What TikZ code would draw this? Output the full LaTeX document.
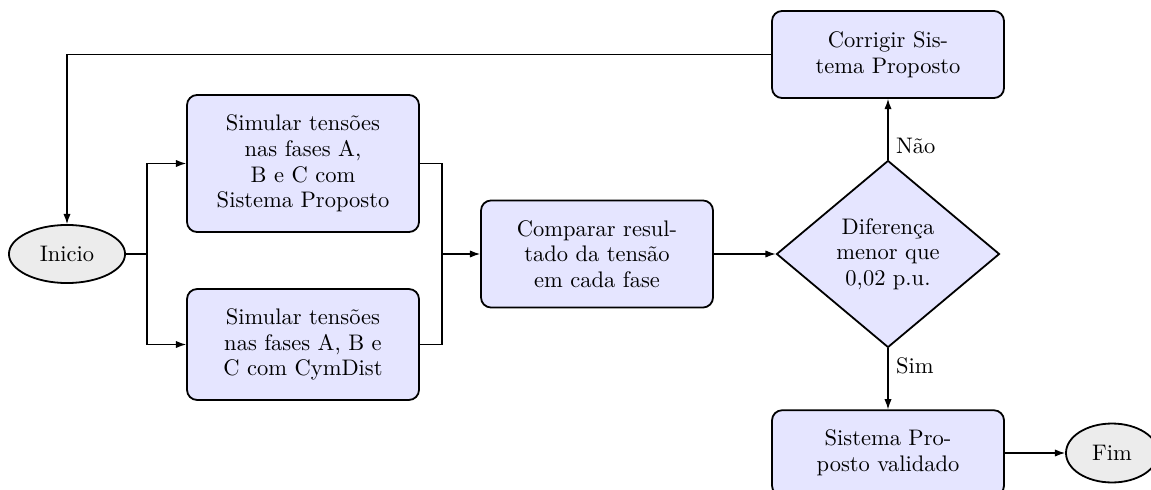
\documentclass[tikz,border=0pt]{standalone}
\usepackage{fontspec}
\usetikzlibrary{shapes.geometric,arrows.meta}
\begin{document}
\begin{tikzpicture}[x=0.4444pt,y=-0.4444pt,
  font=\fontsize{10}{11.4}\selectfont,
  proc/.style={draw,thick,rounded corners=4.5pt,fill=blue!10,align=center,
    minimum width=103.1pt,inner sep=0pt},
  term/.style={draw,thick,ellipse,fill=gray!15,inner sep=0pt},
  decis/.style={draw,thick,diamond,fill=blue!10,align=center,inner sep=0pt},
  conn/.style={line width=0.5pt},
  arr/.style={conn,-{Latex[length=4.5pt,width=3.2pt]}},
  lbl/.style={anchor=west}
]
\useasboundingbox (0,0) rectangle (1151,490);

% terminals
\node[term,minimum width=51.6pt,minimum height=25.8pt] (ini) at (67,254) {Inicio};
\node[term,minimum width=40.9pt,minimum height=26.2pt] (fim) at (1112,453) {Fim};

% process steps
\node[proc,minimum height=60.9pt] (b1) at (303,163.5)
  {Simular tensões\\nas fases A,\\B e C com\\Sistema Proposto};
\node[proc,minimum height=49.3pt] (b2) at (303,344.5)
  {Simular tensões\\nas fases A, B e\\C com CymDist};
\node[proc,minimum height=47.6pt] (b3) at (597,254)
  {Comparar resul-\\tado da tensão\\em cada fase};
\node[decis,minimum width=99.1pt,minimum height=83.1pt] (dec) at (888,254)
  {Diferença\\menor que\\0,02 p.u.};
\node[proc,minimum height=38.7pt] (cor) at (888,54.5)
  {Corrigir Sis-\\tema Proposto};
\node[proc,minimum height=38pt] (val) at (888,453)
  {Sistema Pro-\\posto validado};

% branch and join points
\coordinate (split) at (147,254);
\coordinate (merge) at (442,254);

% connectors
\draw[conn] (ini.east) -- (split);
\draw[arr] (split) |- (b1.west);
\draw[arr] (split) |- (b2.west);
\draw[conn] (b1.east) -| (merge);
\draw[conn] (b2.east) -| (merge);
\draw[arr] (merge) -- (b3.west);
\draw[arr] (b3.east) -- (dec.west);
\draw[arr] (dec.north) -- node[lbl,pos=0.23] {Não} (cor.south);
\draw[arr] (dec.south) -- node[lbl,pos=0.29] {Sim} (val.north);
\draw[arr] (val.east) -- (fim.west);
\draw[arr] (cor.west) -| (ini.north);
\end{tikzpicture}
\end{document}
